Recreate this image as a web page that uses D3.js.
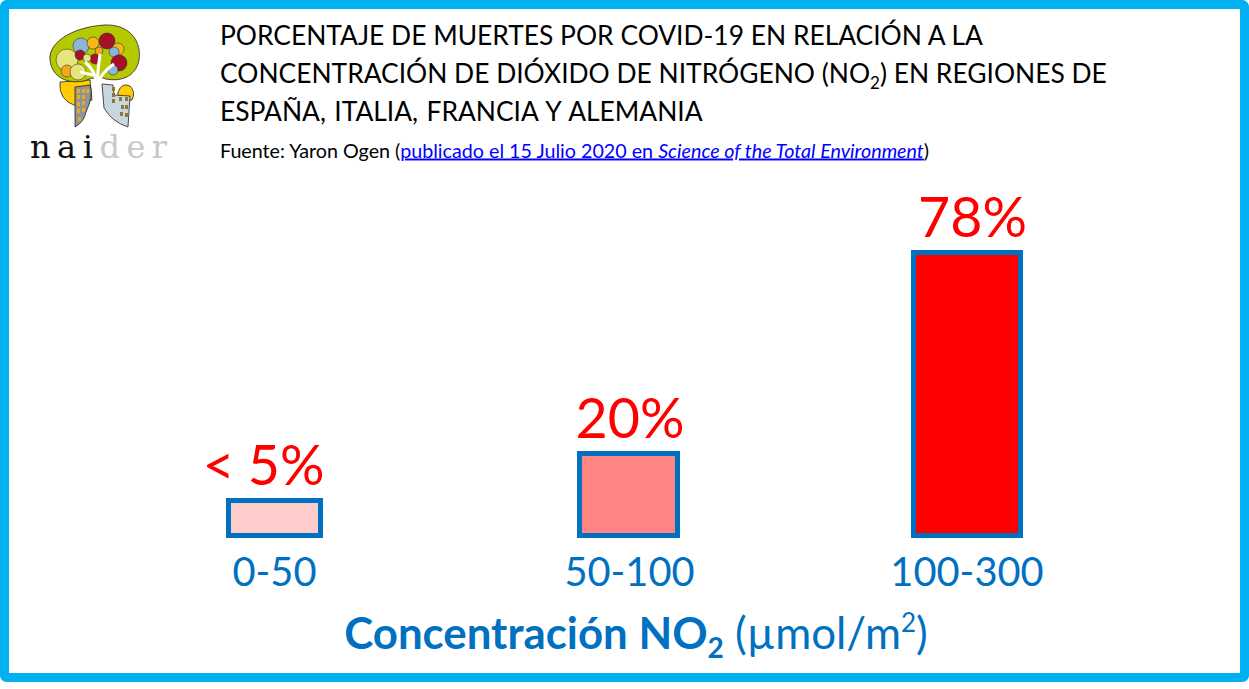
<!DOCTYPE html>
<html><head><meta charset="utf-8">
<script src="https://cdn.jsdelivr.net/npm/d3@7/dist/d3.min.js"></script>
<style>html,body{margin:0;padding:0;background:#fff;overflow:hidden}svg{display:block}text{font-family:Lato,"Open Sans",sans-serif}</style>
</head><body><svg id="c" width="1249" height="689"></svg>
<script>
const categories = ["0-50","50-100","100-300"];
const values = [5,20,78];
const valueLabels = ["< 5%","20%","78%"];
const fills = ["#ffcccc","#ff8585","#ff0000"];
const titleLines = [
 [["PORCENTAJE DE MUERTES POR COVID-19 EN RELACIÓN A LA"]],
 [["CONCENTRACIÓN DE DIÓXIDO DE NITRÓGENO (NO"],["2","sub"],[") EN REGIONES DE"]],
 [["ESPAÑA, ITALIA, FRANCIA Y ALEMANIA"]]
];
const svg = d3.select("#c");
const blue = "#0070c0";

// frame
svg.append("rect").attr("x",4.5).attr("y",4.5).attr("width",1240).attr("height",673)
  .attr("rx",2).attr("fill","#fff").attr("stroke","#00b0f0").attr("stroke-width",9);

// scales: the reference's bars are not to a single linear scale, so the mapping is piecewise
const x = d3.scaleOrdinal().domain(categories).range([274.5,628.5,967]);
const w = d3.scaleOrdinal().domain(categories).range([92,98,107]);
const y = d3.scaleLinear().domain([0,5,20,78]).range([535.5,500.5,453.5,252.5]);

const g = svg.append("g");
g.selectAll("rect").data(categories).join("rect")
 .attr("x",d=>x(d)-w(d)/2).attr("width",d=>w(d))
 .attr("y",(d,i)=>y(values[i])).attr("height",(d,i)=>y(0)-y(values[i]))
 .attr("fill",(d,i)=>fills[i]).attr("stroke",blue).attr("stroke-width",5);

g.selectAll("text.v").data(categories).join("text").attr("class","v")
 .attr("x",(d,i)=>i==0?263.5:x(d)+(i==1?1.5:5.5)).attr("y",(d,i)=>y(values[i])-16)
 .attr("text-anchor","middle").attr("font-size",55.5).attr("fill","#ff0000")
 .attr("word-spacing",-1)
 .text((d,i)=>valueLabels[i]);

g.selectAll("text.c").data(categories).join("text").attr("class","c")
 .attr("x",(d,i)=>x(d)+(i==1?1:0)).attr("y",586)
 .attr("text-anchor","middle").attr("font-size",39.8).attr("fill",blue).text(d=>d);

// axis title
const at = svg.append("text").attr("x",636).attr("y",649).attr("text-anchor","middle").attr("fill",blue).attr("font-size",43.8);
at.append("tspan").attr("font-weight",700).text("Concentración NO");
at.append("tspan").attr("font-weight",700).attr("font-size",28).attr("dy",9).text("2");
at.append("tspan").attr("dy",-9).text(" (µmol/m");
at.append("tspan").attr("font-size",26).attr("dy",-17).text("2");
at.append("tspan").attr("dy",17).text(")");

// title
titleLines.forEach((line,i)=>{
  const t = svg.append("text").attr("x",220).attr("y",44.5+i*38).attr("font-size",26.4).attr("fill","#000")
    .attr("word-spacing",i==2?1.6:0);
  line.forEach(([s,k],j)=>{
    const ts = t.append("tspan").text(s);
    if(k==="sub") ts.attr("font-size",17).attr("dy",6);
    else if(j>0) ts.attr("dy",-6);
  });
});
// source
const s = svg.append("text").attr("x",220).attr("y",157.5).attr("font-size",19.7).attr("fill","#000");
s.append("tspan").text("Fuente: Yaron Ogen (");
s.append("tspan").attr("fill","#0000ff").attr("text-decoration","underline").text("publicado el 15 Julio 2020 en ");
s.append("tspan").attr("fill","#0000ff").attr("text-decoration","underline").attr("font-style","italic").text("Science of the Total Environment");
s.append("tspan").text(")");

// logo
const L = svg.append("g").attr("stroke","#222").attr("stroke-width",0.8);
L.append("path").attr("fill","#ffcc00").attr("d","M60 82 Q58 100 76 106 L92 100 L90 80Z");
L.append("path").attr("fill","#ffcc00").attr("d","M118 92 Q122 82 130 86 Q136 92 132 100 L118 102Z");
L.append("path").attr("fill","#b5c900").attr("d","M50 60 C48 44 70 27 105 25 C130 24 142 42 139 60 C136 76 122 82 106 79 C98 76 92 78 84 81 C68 84 52 78 50 60Z");
[[67,60,11,"#e6e47a"],[67,71,6,"#f5a81c"],[81,46,8,"#8ab6da"],[93,43,6,"#f5b81c"],[107,41,8,"#a80f28"],[118,49,6,"#f5b81c"],[114,52,5,"#8ab6da"],[119,63,8,"#a80f28"],[95,59,5,"#a80f28"],[80,55,5,"#a80f28"],[78,72,8,"#e6e47a"],[113,70,5,"#8ab6da"],[99,51,4,"#f5a81c"],[87,58,4,"#e6e47a"]].forEach(c=>
  L.append("circle").attr("cx",c[0]).attr("cy",c[1]).attr("r",c[2]).attr("fill",c[3]).attr("stroke-width",.5));
L.append("path").attr("fill","none").attr("stroke","#fff").attr("stroke-width",3).attr("d","M97 84 Q95 70 85 62 M97 84 Q98 68 100 54 M97 84 Q102 72 114 64 M97 76 L80 72");
L.append("path").attr("fill","#8d9599").attr("d","M75 87 L90 85 Q94 95 86 112 Q84 122 75 127Z");
L.append("path").attr("fill","#c8d6e0").attr("d","M102 84 L113 85 L114 95 L130 96 L128 127 Q112 122 104 108Z");
const win = L.append("g").attr("fill","#f0a818").attr("stroke","none");
[[77,89],[82,89],[86,89],[77,95],[82,95],[77,102],[82,101],[77,109],[82,108],[78,117]].forEach(p=>win.append("rect").attr("x",p[0]).attr("y",p[1]).attr("width",3).attr("height",4));
const win2 = L.append("g").attr("fill","#8d7a30").attr("stroke","none");
[[112,87],[112,93],[112,99],[119,97],[125,97],[121,105],[125,105],[120,112],[125,113]].forEach(p=>win2.append("rect").attr("x",p[0]).attr("y",p[1]).attr("width",3).attr("height",4));
svg.append("text").attr("x",30).attr("y",158).attr("font-size",32).style("font-family","'DejaVu Serif','Liberation Serif',serif").attr("letter-spacing",6.5).attr("fill","#111").text("nai")
  .append("tspan").attr("fill","#c8c8c8").text("der");
</script></body></html>
